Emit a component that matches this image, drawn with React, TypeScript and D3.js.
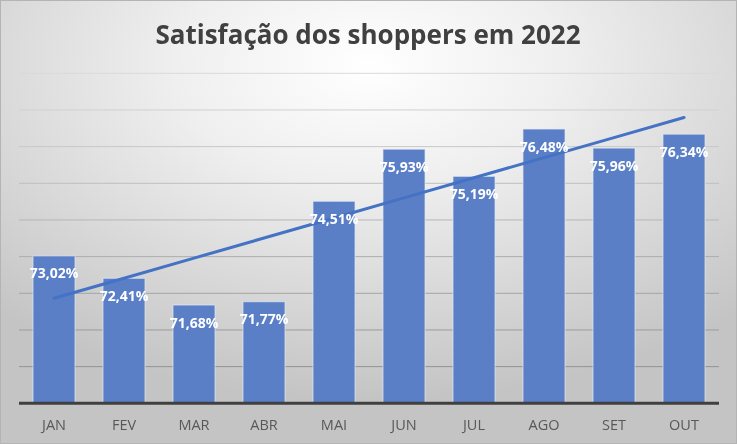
import React from "react";
import * as d3 from "d3";

const months = ["JAN", "FEV", "MAR", "ABR", "MAI", "JUN", "JUL", "AGO", "SET", "OUT"];
const values = [73.02, 72.41, 71.68, 71.77, 74.51, 75.93, 75.19, 76.48, 75.96, 76.34];
const yTicks = [69, 70, 71, 72, 73, 74, 75, 76, 77, 78];
const title = "Satisfação dos shoppers em 2022";

const W = 737;
const H = 444;

export default function App() {
  const x = d3.scaleBand<string>().domain(months).range([19, 719]).paddingInner(0.4).paddingOuter(0.2);
  const y = d3.scaleLinear().domain([69, 78]).range([403.3, 73.3]);

  // linear trend (least squares) from data
  const n = values.length;
  const xs = d3.range(n);
  const mx = d3.mean(xs) as number;
  const my = d3.mean(values) as number;
  const slope =
    d3.sum(xs.map((xi, i) => (xi - mx) * (values[i] - my))) / d3.sum(xs.map((xi) => (xi - mx) ** 2));
  const icpt = my - slope * mx;
  const trend = xs.map((xi) => [x(months[xi])! + x.bandwidth() / 2, y(icpt + slope * xi)] as [number, number]);
  const line = d3.line();

  const fmt = (v: number) => v.toFixed(2).replace(".", ",") + "%";

  return (
    <div style={{ position: "fixed", left: 0, top: 0 }}>
      <svg width={W} height={H} style={{ display: "block" }}>
        <defs>
          <radialGradient id="bg" cx="50%" cy="15%" r="75%" fx="50%" fy="15%">
            <stop offset="0%" stopColor="#ffffff" />
            <stop offset="35%" stopColor="#efefef" />
            <stop offset="100%" stopColor="#c4c4c4" />
          </radialGradient>
          <linearGradient id="grid" gradientUnits="userSpaceOnUse" x1="0" y1="70" x2="0" y2="400">
            <stop offset="0%" stopColor="#dadada" />
            <stop offset="100%" stopColor="#8a8a8a" />
          </linearGradient>
        </defs>
        <rect x={0} y={0} width={W} height={H} fill="url(#bg)" />
        <rect x={0.5} y={0.5} width={W - 1} height={H - 1} fill="none" stroke="#b4b4b4" strokeWidth={1} />
        <text
          x={368}
          y={44}
          textAnchor="middle"
          fontFamily="'Open Sans', sans-serif"
          fontWeight="bold"
          fontSize={26}
          fill="#404040"
        >
          {title}
        </text>
        {yTicks.slice(1).map((t) => (
          <line key={t} x1={19} x2={719} y1={y(t)} y2={y(t)} stroke="url(#grid)" strokeWidth={1} />
        ))}
        {months.map((m, i) => (
          <rect
            key={m}
            x={x(m)}
            y={y(values[i])}
            width={x.bandwidth()}
            height={y(69) - y(values[i])}
            fill="#5a7fc6"
            stroke="#e4e9f3"
            strokeOpacity={0.7}
            strokeWidth={1}
          />
        ))}
        <line x1={19} x2={719} y1={y(69)} y2={y(69)} stroke="#404040" strokeWidth={3} />
        <path d={line(trend) || ""} fill="none" stroke="#4472c4" strokeWidth={3} strokeLinecap="round" />
        {months.map((m, i) => (
          <text
            key={m}
            x={x(m)! + x.bandwidth() / 2}
            y={y(values[i]) + 22.5}
            textAnchor="middle"
            fontFamily="'Open Sans', sans-serif"
            fontWeight="bold"
            fontSize={14}
            fill="#ffffff"
          >
            {fmt(values[i])}
          </text>
        ))}
        {months.map((m) => (
          <text
            key={m}
            x={x(m)! + x.bandwidth() / 2}
            y={429.5}
            textAnchor="middle"
            fontFamily="'Open Sans', sans-serif"
            fontSize={14.5}
            fill="#595959"
          >
            {m}
          </text>
        ))}
      </svg>
    </div>
  );
}
